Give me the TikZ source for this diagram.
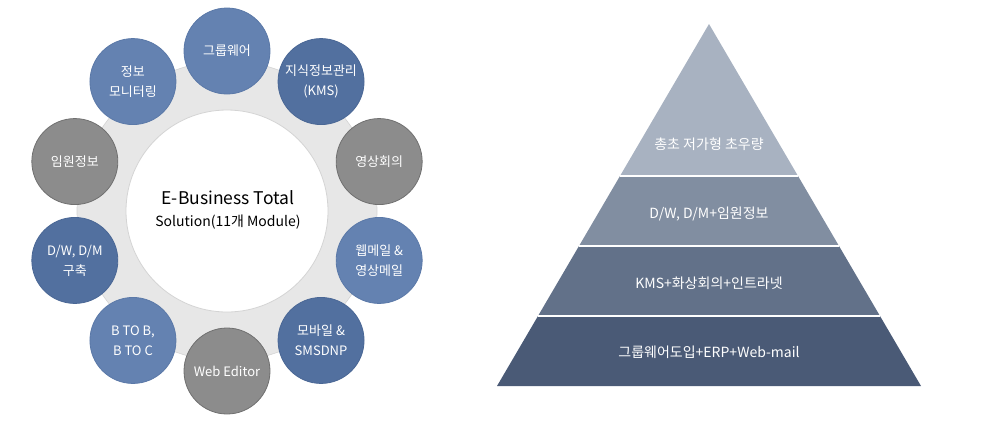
\documentclass[tikz,border=0pt]{standalone}
\usepackage{fontspec}
\setmainfont{Noto Sans CJK KR}
\usetikzlibrary{calc}
\definecolor{ringgray}{HTML}{E7E7E7}
\definecolor{ringline}{HTML}{D4D4D4}
\definecolor{lblue}{HTML}{6482B1}
\definecolor{dblue}{HTML}{52709F}
\definecolor{lbluel}{HTML}{5B79A8}
\definecolor{dbluel}{HTML}{4A6795}
\definecolor{cgray}{HTML}{8C8C8C}
\definecolor{cgrayl}{HTML}{707070}
\definecolor{pyr1}{HTML}{A8B2C1}
\definecolor{pyr2}{HTML}{818EA1}
\definecolor{pyr3}{HTML}{627189}
\definecolor{pyr4}{HTML}{4A5A76}
\tikzset{
  mod/.style={circle, minimum size=86pt, inner sep=0pt, align=center,
    text=white, font=\fontsize{13}{20}\selectfont, line width=0.8pt},
  modlb/.style={mod, fill=lblue, draw=lbluel},
  moddb/.style={mod, fill=dblue, draw=dbluel},
  modgr/.style={mod, fill=cgray, draw=cgrayl},
  pyrtext/.style={text=white, font=\fontsize{14}{17}\selectfont},
  layer/.style={draw=white, line width=1.2pt}
}
\begin{document}
\begin{tikzpicture}[x=1pt,y=-1pt]
\useasboundingbox (0,0) rectangle (998,432);
% ring
\coordinate (c) at (227,211);
\node[circle, minimum size=300pt, fill=ringgray, draw=ringline, line width=0.6pt] (ring) at (c) {};
\node[circle, minimum size=202pt, fill=white, draw=ringline, line width=0.8pt] (hub) at (c) {};
\node[font=\fontsize{17.5}{21}\selectfont, inner sep=0pt] (hubt1) at (228,198) {E-Business Total};
\node[font=\fontsize{14}{17}\selectfont, inner sep=0pt] (hubt2) at (228,222) {Solution(11개 Module)};
% modules
\node[modlb] (m1)  at ($(c)+(-90:160)$)  {그룹웨어};
\node[moddb] (m2)  at ($(c)+(-54:160)$)  {지식정보관리\\(KMS)};
\node[modgr] (m3)  at ($(c)+(-18:160)$)  {영상회의};
\node[modlb] (m4)  at ($(c)+(18:160)$)   {웹메일 \&\\영상메일};
\node[moddb] (m5)  at ($(c)+(54:160)$)   {모바일 \&\\SMSDNP};
\node[modgr] (m6)  at ($(c)+(90:160)$)   {Web Editor};
\node[modlb] (m7)  at ($(c)+(126:160)$)  {B TO B,\\B TO C};
\node[moddb] (m8)  at ($(c)+(162:160)$)  {D/W, D/M\\구축};
\node[modgr] (m9)  at ($(c)+(198:160)$)  {임원정보};
\node[modlb] (m10) at ($(c)+(234:160)$)  {정보\\모니터링};
% pyramid
\coordinate (apex) at (709,24);
\coordinate (bl) at (497,386);
\coordinate (br) at (921,386);
\fill[pyr4] ($(apex)!0.8066!(bl)$) -- (bl) -- (br) -- ($(apex)!0.8066!(br)$) -- cycle;
\fill[pyr3] ($(apex)!0.6133!(bl)$) -- ($(apex)!0.8066!(bl)$) -- ($(apex)!0.8066!(br)$) -- ($(apex)!0.6133!(br)$) -- cycle;
\fill[pyr2] ($(apex)!0.4199!(bl)$) -- ($(apex)!0.6133!(bl)$) -- ($(apex)!0.6133!(br)$) -- ($(apex)!0.4199!(br)$) -- cycle;
\fill[pyr1] (apex) -- ($(apex)!0.4199!(bl)$) -- ($(apex)!0.4199!(br)$) -- cycle;
\draw[layer] ($(apex)!0.4199!(bl)$) -- ($(apex)!0.4199!(br)$);
\draw[layer] ($(apex)!0.6133!(bl)$) -- ($(apex)!0.6133!(br)$);
\draw[layer] ($(apex)!0.8066!(bl)$) -- ($(apex)!0.8066!(br)$);
\node[pyrtext] (p1) at (709,144) {총초 저가형 초우량};
\node[pyrtext] (p2) at (709,214) {D/W, D/M+임원정보};
\node[pyrtext] (p3) at (709,283) {KMS+화상회의+인트라넷};
\node[pyrtext] (p4) at (709,352) {그룹웨어도입+ERP+Web-mail};
\end{tikzpicture}
\end{document}
